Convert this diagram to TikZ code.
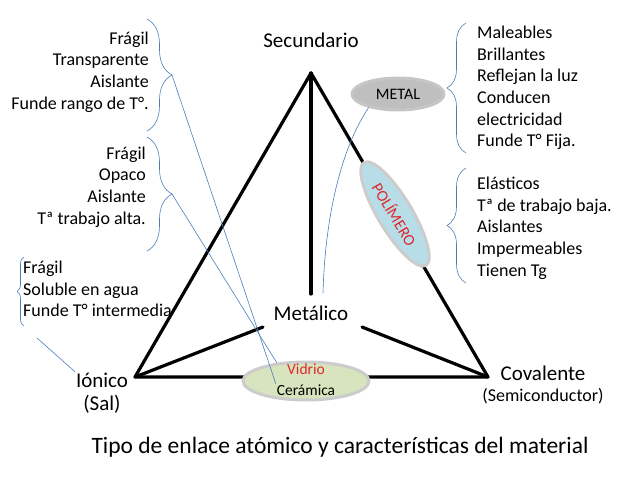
\documentclass[tikz,border=0pt]{standalone}
\usepackage{fontspec}
\setmainfont{Carlito}
\usetikzlibrary{shapes.geometric,decorations.pathreplacing,positioning}
\definecolor{azulfino}{HTML}{4A7EBB}
\definecolor{rojotexto}{HTML}{E0282C}
\definecolor{grismetal}{HTML}{BFBFBF}
\definecolor{azulpoli}{HTML}{B7DEE8}
\definecolor{verdevid}{HTML}{D7E4BD}

\begin{document}
\begin{tikzpicture}[x=1pt,y=-1pt,
			line join=round, line cap=round,
			every node/.style = {inner sep=1pt},
			arista/.style = {line width=3.2pt},
			enlace/.style = {draw=azulfino, line width=0.6pt},
			llave/.style = {enlace, decorate, decoration={brace, amplitude=#1}},
			lista/.style = {font=\fontsize{18}{21.7}\selectfont},
			vertice/.style = {font=\fontsize{21}{24}\selectfont, align=center},
			burbuja/.style = {ellipse, font=\fontsize{15.5}{21}\selectfont}
			]
			\useasboundingbox (0,0) rectangle (638,479);
			% vertices del triangulo
			\coordinate (sec) at (311,73);
			\coordinate (ion) at (135,377);
			\coordinate (cov) at (488,377);
			\coordinate (mtop) at (311,294);
			\coordinate (mizq) at (263,327);
			\coordinate (mder) at (362,327);
			\draw[arista] (sec) -- (ion) -- (cov) -- cycle;
			\draw[arista] (sec) -- (mtop);
			\draw[arista] (ion) -- (mizq);
			\draw[arista] (cov) -- (mder);
			% etiquetas
			\node[vertice] (secundario) at (311,40) {Secundario};
			\node[vertice] (metalico) at (311,313) {Metálico};
			\node[vertice] (ionico) at (102,393) {Iónico\\[-1pt](Sal)};
			\node[vertice] (covalente) at (543,373) {Covalente};
			\node[lista] (semicond) at (543,396) {(Semiconductor)};
			% burbujas
			\node[burbuja, draw=gray!45, line width=3pt, fill=grismetal,
				minimum width=92pt, minimum height=32pt,
				font=\fontsize{16}{21}\selectfont] (metal) at (398,94) {METAL};
			\node[burbuja, draw=gray!40, line width=3pt, fill=azulpoli,
				minimum width=120pt, minimum height=34pt, rotate=-59,
				font=\fontsize{16}{21}\selectfont,
				text=rojotexto] (polimero) at (395,214) {POLÍMERO};
			\node[burbuja, draw=gray!40, line width=3pt, fill=verdevid,
				minimum width=126pt, minimum height=38pt] (vidrio) at (306,381) {};
			\node[burbuja, text=rojotexto] (vid) at (306,369) {Vidrio};
			\node[burbuja] (ceram) at (306,390) {Cerámica};
			% listas de propiedades
			\node[lista, align=right, anchor=east] (props1) at (150,72)
				{Frágil\\Transparente\\Aislante\\Funde rango de T°.};
			\node[lista, align=right, anchor=east] (props2) at (147,187)
				{Frágil\\Opaco\\Aislante\\Tª trabajo alta.};
			\node[lista, align=left, anchor=west] (props3) at (22,289)
				{Frágil\\Soluble en agua\\Funde T° intermedia};
			\node[lista, align=left, anchor=west] (props4) at (476,88)
				{Maleables\\Brillantes\\Reflejan la luz\\Conducen\\electricidad\\Funde T° Fija.};
			\node[lista, align=left, anchor=west] (props5) at (476,228)
				{Elásticos\\Tª de trabajo baja.\\Aislantes\\Impermeables\\Tienen Tg};
			% llaves
			\draw[llave=25pt] (147,19) -- (147,131) coordinate[midway, xshift=25pt] (punta1);
			\draw[llave=25pt] (147,137) -- (147,251) coordinate[midway, xshift=25pt] (punta2);
			\draw[llave=7pt] (24,326) -- (24,257);
			\draw[llave=19pt] (466,153) -- (466,23);
			\draw[llave=19pt] (466,283) -- (466,168);
			% conexiones
			\coordinate (suelto) at (37,338);
			\coordinate (pie) at (323,293);
			\draw[enlace] (punta1) -- (ceram.north west);
			\draw[enlace] (punta2) -- (vidrio.148);
			\draw[enlace] (suelto) -- (ionico.north west);
			\draw[enlace] (metal.205) .. controls (340,150) and (325,220) .. (pie);
			% titulo
			\node[vertice, font=\fontsize{23.5}{26}\selectfont] (titulo) at (340,447)
				{Tipo de enlace atómico y características del material};
			\end{tikzpicture}
\end{document}
